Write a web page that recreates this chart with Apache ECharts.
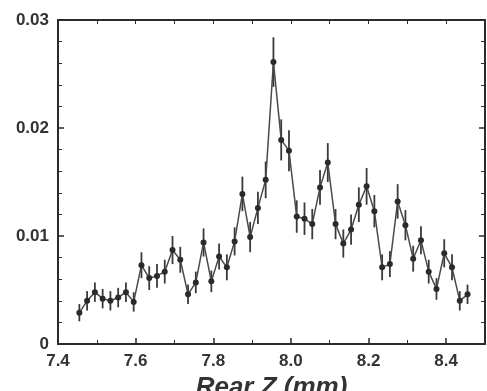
<!DOCTYPE html>
<html>
<head>
<meta charset="utf-8">
<script src="https://cdn.jsdelivr.net/npm/echarts@6/dist/echarts.min.js"></script>
<style>
  html, body { margin: 0; padding: 0; background: #fff; }
  #chart { width: 487px; height: 391px; }
</style>
</head>
<body>
<div id="chart"></div>
<script>
// Rear Z position (mm) of each bin centre
const rearZ = [7.455, 7.475, 7.495, 7.515, 7.535, 7.555, 7.575, 7.595, 7.615, 7.635,
               7.655, 7.675, 7.695, 7.715, 7.735, 7.755, 7.775, 7.795, 7.815, 7.835,
               7.855, 7.875, 7.895, 7.915, 7.935, 7.955, 7.975, 7.995, 8.015, 8.035,
               8.055, 8.075, 8.095, 8.115, 8.135, 8.155, 8.175, 8.195, 8.215, 8.235,
               8.255, 8.275, 8.295, 8.315, 8.335, 8.355, 8.375, 8.395, 8.415, 8.435,
               8.455];
// Measured value per bin
const yieldValues = [0.0029, 0.0040, 0.0048, 0.0042, 0.0040, 0.0043, 0.0048, 0.0039, 0.0073, 0.0061,
                     0.0063, 0.0067, 0.0087, 0.0078, 0.0046, 0.0057, 0.0094, 0.0058, 0.0081, 0.0071,
                     0.0095, 0.0139, 0.0099, 0.0126, 0.0152, 0.0261, 0.0189, 0.0179, 0.0118, 0.0116,
                     0.0111, 0.0145, 0.0168, 0.0111, 0.0093, 0.0106, 0.0129, 0.0146, 0.0123, 0.0071,
                     0.0074, 0.0132, 0.0110, 0.0079, 0.0096, 0.0067, 0.0051, 0.0084, 0.0071, 0.0040,
                     0.0046];
// Statistical uncertainty per bin (half-length of the error bar)
const yieldErrors = [0.0008, 0.0009, 0.0009, 0.0009, 0.0009, 0.0009, 0.0009, 0.0009, 0.0012, 0.0011,
                     0.0011, 0.0011, 0.0013, 0.0012, 0.0009, 0.0010, 0.0013, 0.0010, 0.0012, 0.0012,
                     0.0013, 0.0016, 0.0014, 0.0015, 0.0017, 0.0023, 0.0019, 0.0019, 0.0015, 0.0015,
                     0.0014, 0.0016, 0.0018, 0.0014, 0.0013, 0.0014, 0.0016, 0.0017, 0.0015, 0.0012,
                     0.0012, 0.0016, 0.0014, 0.0012, 0.0013, 0.0011, 0.0010, 0.0013, 0.0012, 0.0009,
                     0.0009];
// Axis labels
const yTickLabels = ['0', '0.01', '0.02', '0.03'];
const xAxisTitle = 'Rear Z (mm)';

const ink = '#2b2b2b';
const lineData = rearZ.map((z, i) => [z, yieldValues[i]]);
const errData = rearZ.map((z, i) => [z, yieldValues[i] - yieldErrors[i], yieldValues[i] + yieldErrors[i]]);

const fontFamily = 'Liberation Sans, Arial, Helvetica, sans-serif';
const labelFont = { fontFamily: fontFamily, fontWeight: 'bold', fontSize: 17, color: '#333' };
const frameLine = { show: true, onZero: false, lineStyle: { color: ink, width: 2 } };

const chart = echarts.init(document.getElementById('chart'), null, { renderer: 'canvas' });
chart.setOption({
  animation: false,
  grid: { left: 58, right: 2, top: 20, bottom: 47, containLabel: false, outerBoundsMode: 'none' },
  xAxis: [{
    type: 'value', min: 7.4, max: 8.5, interval: 0.2,
    position: 'bottom',
    axisLine: frameLine,
    axisTick: { show: true, inside: true, length: 6, lineStyle: { color: ink, width: 1.5 } },
    minorTick: { show: true, splitNumber: 2, length: 4, lineStyle: { color: ink, width: 1 } },
    splitLine: { show: false },
    axisLabel: Object.assign({ margin: 9, showMaxLabel: false, formatter: v => v.toFixed(1) }, labelFont),
    name: xAxisTitle, nameLocation: 'middle', nameGap: 27,
    nameTextStyle: { fontFamily: fontFamily, fontSize: 26, fontWeight: 'bold', fontStyle: 'italic', color: '#333' }
  }, {
    type: 'value', min: 7.4, max: 8.5, interval: 0.1,
    position: 'top',
    axisLine: frameLine,
    axisTick: { show: true, inside: true, length: 4, lineStyle: { color: ink, width: 1 } },
    splitLine: { show: false },
    axisLabel: { show: false }
  }],
  yAxis: [{
    type: 'value', min: 0, max: 0.03, interval: 0.01,
    position: 'left',
    axisLine: frameLine,
    axisTick: { show: true, inside: true, length: 6, lineStyle: { color: ink, width: 1.5 } },
    minorTick: { show: true, splitNumber: 5, length: 4, lineStyle: { color: ink, width: 1 } },
    splitLine: { show: false },
    axisLabel: Object.assign({ margin: 9, formatter: (v) => yTickLabels[Math.round(v * 100)] }, labelFont)
  }, {
    type: 'value', min: 0, max: 0.03, interval: 0.01,
    position: 'right',
    axisLine: frameLine,
    axisTick: { show: true, inside: true, length: 6, lineStyle: { color: ink, width: 1.5 } },
    minorTick: { show: true, splitNumber: 5, length: 4, lineStyle: { color: ink, width: 1 } },
    splitLine: { show: false },
    axisLabel: { show: false }
  }],
  series: [{
    type: 'custom',
    name: 'errors',
    data: errData,
    encode: { x: 0, y: [1, 2] },
    renderItem: function (params, api) {
      const lo = api.coord([api.value(0), api.value(1)]);
      const hi = api.coord([api.value(0), api.value(2)]);
      return {
        type: 'line',
        shape: { x1: lo[0], y1: lo[1], x2: hi[0], y2: hi[1] },
        style: { stroke: '#3a3a3a', lineWidth: 1.8 }
      };
    },
    z: 2
  }, {
    type: 'line',
    name: 'yield',
    data: lineData,
    symbol: 'circle',
    symbolSize: 6,
    itemStyle: { color: '#2a2a2a' },
    lineStyle: { color: '#4a4a4a', width: 1.5 },
    z: 3
  }]
});
</script>
</body>
</html>
